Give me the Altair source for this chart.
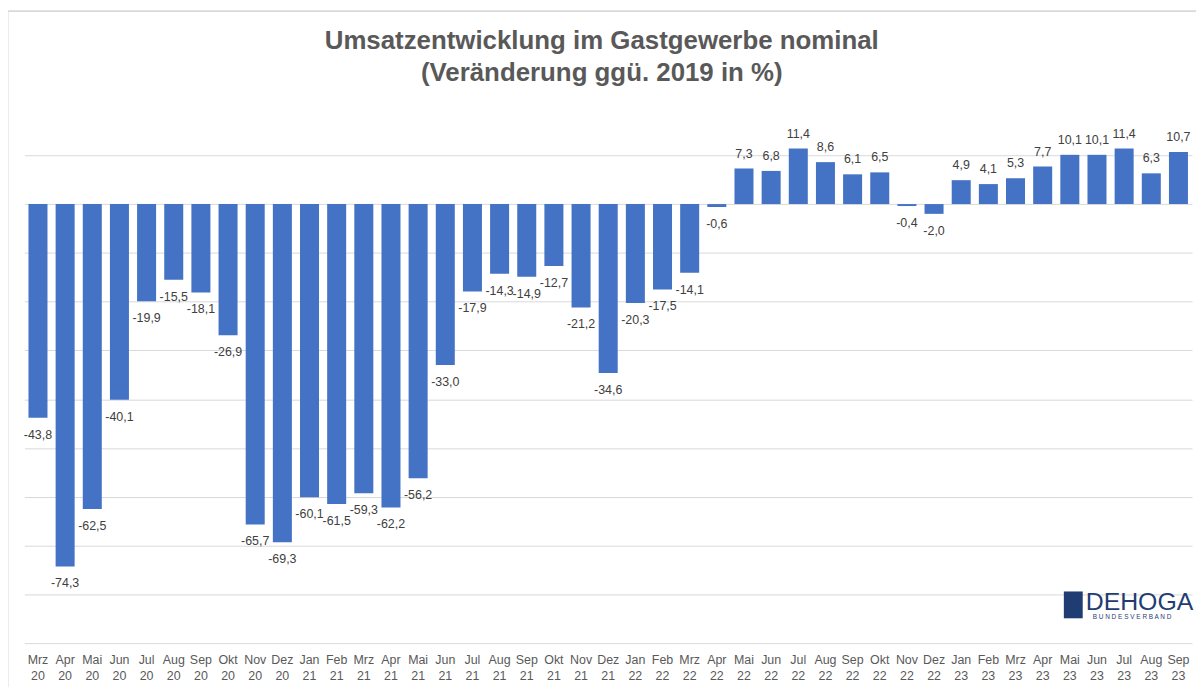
import altair as alt
import pandas as pd

months = ["Mrz 20", "Apr 20", "Mai 20", "Jun 20", "Jul 20", "Aug 20", "Sep 20", "Okt 20", "Nov 20", "Dez 20",
          "Jan 21", "Feb 21", "Mrz 21", "Apr 21", "Mai 21", "Jun 21", "Jul 21", "Aug 21", "Sep 21", "Okt 21", "Nov 21", "Dez 21",
          "Jan 22", "Feb 22", "Mrz 22", "Apr 22", "Mai 22", "Jun 22", "Jul 22", "Aug 22", "Sep 22", "Okt 22", "Nov 22", "Dez 22",
          "Jan 23", "Feb 23", "Mrz 23", "Apr 23", "Mai 23", "Jun 23", "Jul 23", "Aug 23", "Sep 23"]
values = [-43.8, -74.3, -62.5, -40.1, -19.9, -15.5, -18.1, -26.9, -65.7, -69.3,
          -60.1, -61.5, -59.3, -62.2, -56.2, -33.0, -17.9, -14.3, -14.9, -12.7, -21.2, -34.6,
          -20.3, -17.5, -14.1, -0.6, 7.3, 6.8, 11.4, 8.6, 6.1, 6.5, -0.4, -2.0,
          4.9, 4.1, 5.3, 7.7, 10.1, 10.1, 11.4, 6.3, 10.7]
grid_values = [10, 0, -10, -20, -30, -40, -50, -60, -70, -80, -90]
title_lines = ["Umsatzentwicklung im Gastgewerbe nominal", "(Veränderung ggü. 2019 in %)"]

df = pd.DataFrame({"Monat": months, "Wert": values})
df["Label"] = [f"{v:.1f}".replace(".", ",") for v in values]

font = "Liberation Sans"
x_enc = alt.X("Monat:N", sort=months,
              scale=alt.Scale(paddingInner=0.3, paddingOuter=0.15),
              axis=alt.Axis(title=None, labelAngle=0, domain=False, ticks=False, grid=False,
                            labelExpr="split(datum.value, ' ')", labelFont=font,
                            labelFontSize=12.5, labelColor="#595959", labelPadding=11,
                            labelLineHeight=16))
y_scale = alt.Scale(domain=[-90, 20], nice=False)

bars = alt.Chart(df).mark_bar(color="#4472C4").encode(
    x=x_enc,
    y=alt.Y("Wert:Q", scale=y_scale,
            axis=alt.Axis(title=None, labels=False, ticks=False, domain=False,
                          values=grid_values, gridColor="#d9d9d9", gridWidth=1)),
)

lab_neg = alt.Chart(df).transform_filter("datum.Wert < 0").mark_text(
    baseline="top", dy=11, font=font, fontSize=12.5, color="#404040"
).encode(x=alt.X("Monat:N", sort=months), y=alt.Y("Wert:Q", scale=y_scale), text="Label:N")

lab_pos = alt.Chart(df).transform_filter("datum.Wert >= 0").mark_text(
    baseline="bottom", dy=-8, font=font, fontSize=12.5, color="#404040"
).encode(x=alt.X("Monat:N", sort=months), y=alt.Y("Wert:Q", scale=y_scale), text="Label:N")

one = alt.Chart(df).transform_filter("datum.Monat == 'Mrz 20'")
border_top = one.mark_rule(color="#d9d9d9", strokeWidth=2).encode(
    x=alt.value(-17), x2=alt.value(1185), y=alt.value(-96))
border_left = one.mark_rule(color="#d9d9d9", strokeWidth=2).encode(
    x=alt.value(-17), y=alt.value(-96), y2=alt.value(590))
title1 = one.mark_text(text=title_lines[0], font=font, fontSize=26, fontWeight="bold",
                       color="#595959", align="center", baseline="middle").encode(
    x=alt.value(581), y=alt.value(-66))
title2 = one.mark_text(text=title_lines[1], font=font, fontSize=26, fontWeight="bold",
                       color="#595959", align="center", baseline="middle").encode(
    x=alt.value(581), y=alt.value(-34))
logo_box = one.mark_rect(color="#1F3D73").encode(
    x=alt.value(1046), x2=alt.value(1065), y=alt.value(488), y2=alt.value(515))
logo_txt = one.mark_text(
    text="DEHOGA", font=font, fontSize=25, color="#1F3D73", align="left", baseline="alphabetic").encode(
    x=alt.value(1068), y=alt.value(507))
logo_sub = one.mark_text(
    text="B U N D E S V E R B A N D", font=font, fontSize=6.5, color="#1F3D73", align="left",
    baseline="alphabetic").encode(x=alt.value(1075), y=alt.value(516))

chart = alt.layer(border_top, border_left, bars, lab_neg, lab_pos, title1, title2,
                  logo_box, logo_txt, logo_sub).properties(
    width=1175, height=540,
    background="white",
    autosize=alt.AutoSizeParams(type="none"),
    padding={"left": 16.5, "top": 97, "right": 4, "bottom": 42},
).configure_view(strokeWidth=0, stroke="transparent")

chart.save("out.html", embed_options={"renderer": "svg", "actions": False})
